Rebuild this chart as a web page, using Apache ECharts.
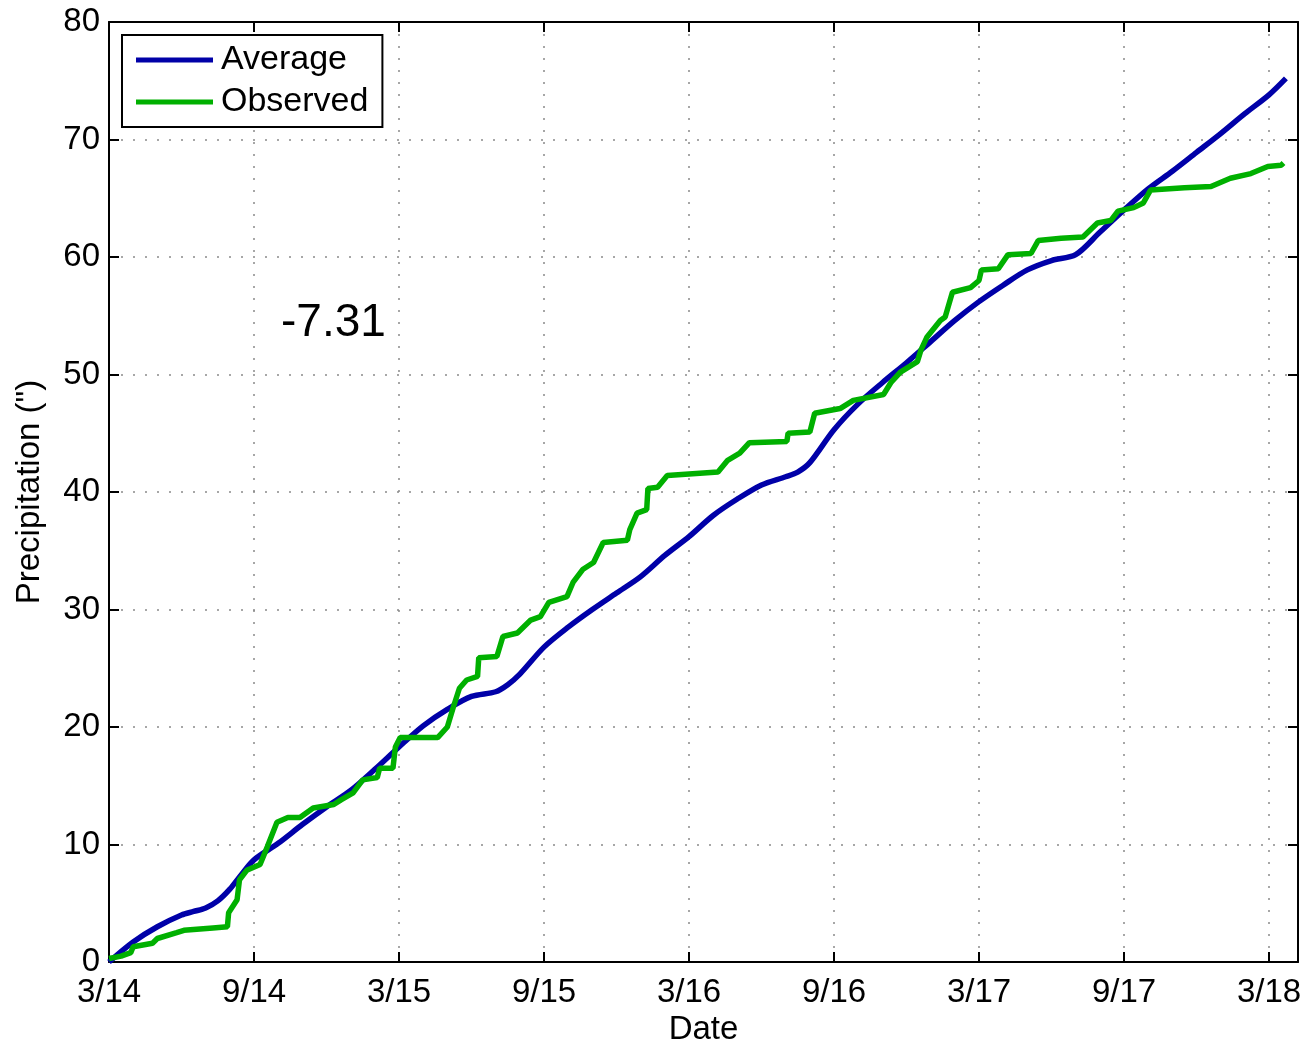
<!DOCTYPE html>
<html>
<head>
<meta charset="utf-8">
<script src="https://cdn.jsdelivr.net/npm/echarts@6/dist/echarts.min.js"></script>
<style>
  html, body { margin: 0; padding: 0; background: #fff; }
  #main { width: 1307px; height: 1045px; }
</style>
</head>
<body>
<div id="main"></div>
<script>
// x values are months since March 2014
var tickLabels = ["3/14", "9/14", "3/15", "9/15", "3/16", "9/16", "3/17", "9/17", "3/18"];

var averageData = [
  [0, 0], [1, 1.7], [2, 3.0], [3, 4.0], [3.5, 4.3], [4, 4.6], [4.5, 5.2], [5, 6.2], [5.5, 7.5],
  [6, 8.7], [7, 10.1], [8, 11.7], [9, 13.2], [10, 14.6], [11, 16.4], [12, 18.3], [13, 20.1],
  [14, 21.5], [15, 22.6], [16, 23.0], [16.5, 23.6], [17, 24.5], [18, 26.8], [19, 28.5],
  [20, 30.0], [21, 31.4], [22, 32.8], [23, 34.6], [24, 36.2], [25, 38.0], [26, 39.4],
  [27, 40.6], [28, 41.3], [28.5, 41.7], [29, 42.5], [30, 45.3], [31, 47.5], [32, 49.3],
  [33, 51.0], [34, 52.8], [35, 54.6], [36, 56.2], [37, 57.6], [38, 58.9], [39, 59.7],
  [40, 60.2], [41, 62.1], [42, 64.0], [43, 65.8], [44, 67.3], [45, 68.9], [46, 70.5],
  [47, 72.2], [48, 73.8], [48.7, 75.2]
];

var observedData = [
  [0, 0.3], [0.5, 0.5], [0.9, 0.8], [1.0, 1.3], [1.8, 1.6], [2.0, 2.0], [2.8, 2.5], [3.1, 2.7],
  [4.3, 2.9], [4.9, 3.0], [4.95, 4.2], [5.3, 5.3], [5.4, 7.0], [5.7, 7.8], [6.25, 8.3],
  [6.55, 9.8], [6.95, 11.9], [7.4, 12.3], [7.9, 12.3], [8.45, 13.1], [9.3, 13.4], [9.6, 13.8],
  [10.1, 14.4], [10.5, 15.5], [11.1, 15.7], [11.2, 16.5], [11.75, 16.5], [11.85, 18.3],
  [12.05, 19.1], [13.6, 19.1], [14.0, 20.0], [14.25, 21.7], [14.5, 23.3], [14.8, 24.0],
  [15.25, 24.3], [15.3, 25.9], [16.05, 26.0], [16.3, 27.7], [16.9, 28.0], [17.45, 29.1],
  [17.85, 29.4], [18.2, 30.6], [18.95, 31.1], [19.2, 32.3], [19.6, 33.4], [20.05, 34.0],
  [20.45, 35.7], [21.45, 35.9], [21.55, 36.8], [21.85, 38.2], [22.25, 38.5], [22.3, 40.3],
  [22.7, 40.4], [23.1, 41.4], [25.2, 41.7], [25.6, 42.7], [26.1, 43.3], [26.5, 44.2],
  [28.05, 44.3], [28.1, 45.0], [29.0, 45.1], [29.2, 46.7], [30.25, 47.1], [30.8, 47.8],
  [32.05, 48.3], [32.35, 49.3], [32.75, 50.2], [33.45, 51.1], [33.6, 52.1], [33.85, 53.2],
  [34.4, 54.6], [34.6, 54.9], [34.9, 57.0], [35.65, 57.4], [36.0, 58.0], [36.1, 58.9],
  [36.8, 59.0], [37.2, 60.2], [38.15, 60.3], [38.45, 61.4], [39.4, 61.6], [40.3, 61.7],
  [40.9, 62.9], [41.45, 63.1], [41.75, 63.9], [42.4, 64.2], [42.8, 64.6], [43.1, 65.7],
  [44.5, 65.9], [45.6, 66.0], [46.4, 66.7], [47.25, 67.1], [47.95, 67.7], [48.5, 67.8],
  [48.6, 68.0]
];

var differenceText = "-7.31";

var myChart = echarts.init(document.getElementById("main"));
var font = "Liberation Sans, Arial, sans-serif";
var gridDots = { type: [2, 10], color: "#8a8a8a", width: 1.5 };
var frameLine = { color: "#000", width: 2 };
var tickStyle = { color: "#000", width: 2 };

var option = {
  backgroundColor: "#fff",
  animation: false,
  grid: { left: 109, right: 9, top: 22, bottom: 83, containLabel: false, outerBoundsMode: "none" },
  legend: {
    orient: "vertical",
    left: 122,
    top: 35,
    padding: [8, 14, 8, 14],
    itemGap: 8,
    itemWidth: 77,
    itemHeight: 5,
    icon: "rect",
    backgroundColor: "#fff",
    borderColor: "#000",
    borderWidth: 2,
    textStyle: { fontFamily: font, fontSize: 34, color: "#000", padding: [0, 0, 0, 3] },
    data: ["Average", "Observed"]
  },
  xAxis: [
    {
      type: "value",
      min: 0,
      max: 49.2,
      interval: 6,
      position: "bottom",
      name: "Date",
      nameLocation: "middle",
      nameGap: 48,
      nameTextStyle: { fontFamily: font, fontSize: 33, color: "#000" },
      axisLine: { onZero: false, lineStyle: frameLine },
      axisTick: { inside: true, length: 10, lineStyle: tickStyle },
      axisLabel: {
        fontFamily: font,
        fontSize: 33,
        color: "#000",
        margin: 14,
        showMaxLabel: false,
        formatter: function (v) {
          var i = Math.round(v / 6);
          return Math.abs(v - i * 6) < 1e-6 ? tickLabels[i] || "" : "";
        }
      },
      splitLine: { show: true, lineStyle: gridDots }
    },
    {
      type: "value",
      min: 0,
      max: 49.2,
      interval: 6,
      position: "top",
      axisLine: { onZero: false, lineStyle: frameLine },
      axisTick: { inside: true, length: 10, lineStyle: tickStyle },
      axisLabel: { show: false },
      splitLine: { show: false }
    }
  ],
  yAxis: [
    {
      type: "value",
      min: 0,
      max: 80,
      interval: 10,
      position: "left",
      name: 'Precipitation (")',
      nameLocation: "middle",
      nameGap: 63,
      nameTextStyle: { fontFamily: font, fontSize: 33, color: "#000" },
      axisLine: { show: true, onZero: false, lineStyle: frameLine },
      axisTick: { show: true, inside: true, length: 10, lineStyle: tickStyle },
      axisLabel: { fontFamily: font, fontSize: 33, color: "#000", margin: 9 },
      splitLine: { show: true, lineStyle: gridDots }
    },
    {
      type: "value",
      min: 0,
      max: 80,
      interval: 10,
      position: "right",
      axisLine: { show: true, onZero: false, lineStyle: frameLine },
      axisTick: { show: true, inside: true, length: 10, lineStyle: tickStyle },
      axisLabel: { show: false },
      splitLine: { show: false }
    }
  ],
  graphic: [
    {
      type: "text",
      left: 281,
      top: 300,
      style: { text: differenceText, fontFamily: font, fontSize: 46, fill: "#000" }
    }
  ],
  series: [
    {
      name: "Average",
      type: "line",
      xAxisIndex: 0,
      yAxisIndex: 0,
      data: averageData,
      smooth: 0.3,
      showSymbol: false,
      color: "#0000a8",
      lineStyle: { width: 5.5, color: "#0000a8" },
      z: 3
    },
    {
      name: "Observed",
      type: "line",
      xAxisIndex: 0,
      yAxisIndex: 0,
      data: observedData,
      showSymbol: false,
      color: "#00b000",
      lineStyle: { width: 5.5, color: "#00b000" },
      z: 4
    }
  ]
};

myChart.setOption(option);
window.onresize = function () {
  myChart.resize();
};
</script>
</body>
</html>
